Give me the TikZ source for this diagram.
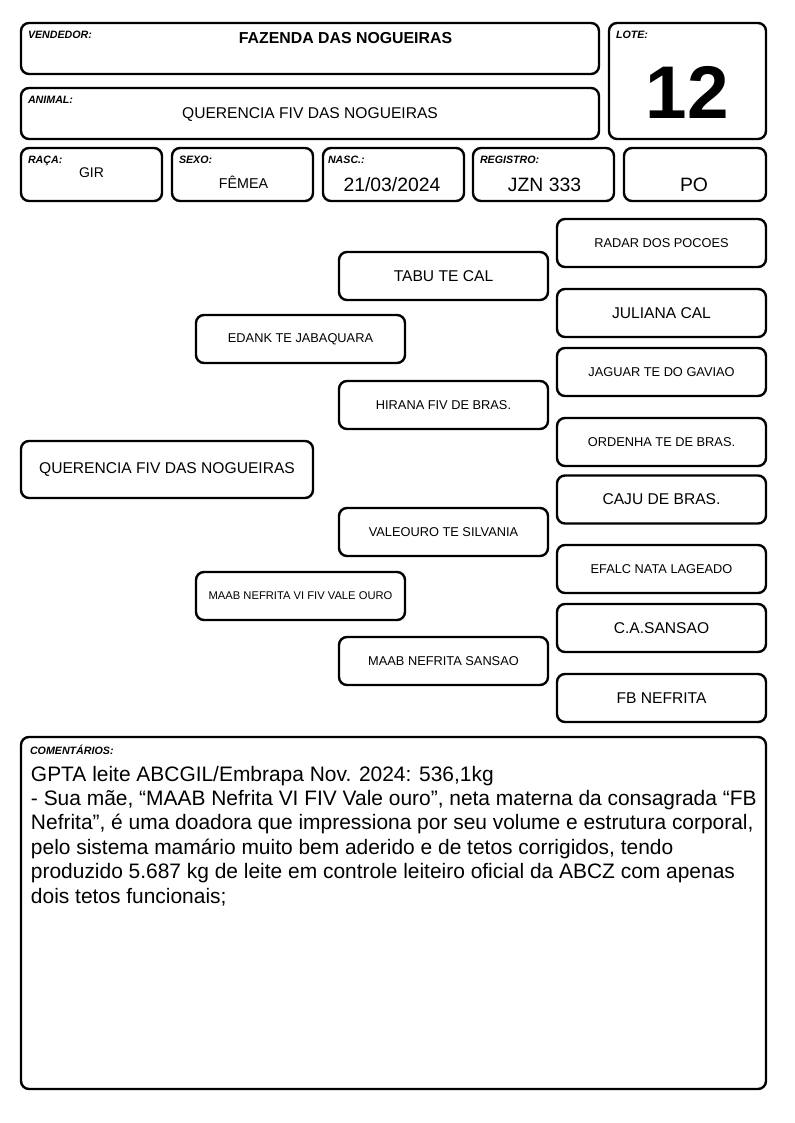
\documentclass[tikz,border=0pt]{standalone}
\usepackage{fontspec}
\setmainfont{Liberation Sans}
\usepackage{tikz}

\begin{document}
\begin{tikzpicture}[x=0.75pt, y={(0pt,-0.75pt)},
        every node/.append style={inner sep=0pt, outer sep=0pt}]
      \tikzstyle{box} = [draw, line width=1.8pt, rounded corners=6pt]
      \tikzstyle{wh} = [minimum width=#1*0.75pt]
      \tikzstyle{ht} = [minimum height=#1*0.75pt]
      \tikzstyle{tag} = [anchor=north west, font=\fontsize{8}{9}\selectfont\bfseries\itshape]
      \tikzstyle{value} = [anchor=base, font=\fontsize{14.5}{17}\selectfont]
      \tikzstyle{large} = [font=\fontsize{11.7}{14}\selectfont]
      \tikzstyle{medium} = [font=\fontsize{9.6}{12}\selectfont]
      \tikzstyle{small} = [font=\fontsize{8.4}{10}\selectfont]
      \tikzstyle{ped} = [box, wh=209, ht=48]
      \useasboundingbox[fill=white] (0,0) rectangle (794,1123);
      % cabecalho
      \node (vendedor) [box, wh=578, ht=51] at (310,48.5) {};
      \node (animal) [box, wh=578, ht=51] at (310,113.5) {};
      \node (lote) [box, wh=157, ht=116] at (687.5,81) {};
      \node (raca) [box, wh=141, ht=53] at (91.5,174.5) {};
      \node (sexo) [box, wh=141, ht=53] at (242.5,174.5) {};
      \node (nasc) [box, wh=141, ht=53] at (393.5,174.5) {};
      \node (registro) [box, wh=141, ht=53] at (543.5,174.5) {};
      \node (po) [box, wh=142, ht=53] at (695,174.5) {};
      \node [tag] at ([shift={(7,8)}]vendedor.north west) {VENDEDOR:};
      \node [tag] at ([shift={(7,8)}]animal.north west) {ANIMAL:};
      \node [tag] at ([shift={(7,8)}]lote.north west) {LOTE:};
      \node [tag] at ([shift={(7,8)}]raca.north west) {RAÇA:};
      \node [tag] at ([shift={(7,8)}]sexo.north west) {SEXO:};
      \node [tag] at ([shift={(5,8)}]nasc.north west) {NASC.:};
      \node [tag] at ([shift={(7,8)}]registro.north west) {REGISTRO:};
      \node (fazenda) [anchor=base, font=\fontsize{11.9}{14}\selectfont\bfseries] at (345.5,44) {FAZENDA DAS NOGUEIRAS};
      \node (nome) [anchor=base, large] at (310,119) {QUERENCIA FIV DAS NOGUEIRAS};
      \node (numero) [anchor=base, font=\fontsize{56}{60}\selectfont\bfseries] at (687.5,119) {12};
      \node [anchor=base, font=\fontsize{10.5}{12}\selectfont] at (91.5,178) {GIR};
      \node [anchor=base, font=\fontsize{10.7}{12}\selectfont] at (243.5,189) {FÊMEA};
      \node [value] at (392,192) {21/03/2024};
      \node [value] at (544.5,192) {JZN 333};
      \node [value] at (694,192) {PO};
      % genealogia
      \node (QUERENCIA) [box, wh=292, ht=57, large] at (167,469.5) {QUERENCIA FIV DAS NOGUEIRAS};
      \node (EDANK) [ped, medium] at (300.5,339) {EDANK TE JABAQUARA};
      \node (MAABVI) [ped, small] at (300.5,596) {MAAB NEFRITA VI FIV VALE OURO};
      \node (TABU) [ped, large] at (443.5,276) {TABU TE CAL};
      \node (HIRANA) [ped, medium] at (443.5,405) {HIRANA FIV DE BRAS.};
      \node (VALEOURO) [ped, medium] at (443.5,532) {VALEOURO TE SILVANIA};
      \node (MAABSANSAO) [ped, medium] at (443.5,661) {MAAB NEFRITA SANSAO};
      \node (RADAR) [ped, medium] at (661.5,243) {RADAR DOS POCOES};
      \node (JULIANA) [ped, large] at (661.5,313) {JULIANA CAL};
      \node (JAGUAR) [ped, medium] at (661.5,372) {JAGUAR TE DO GAVIAO};
      \node (ORDENHA) [ped, medium] at (661.5,442) {ORDENHA TE DE BRAS.};
      \node (CAJU) [ped, large] at (661.5,499.5) {CAJU DE BRAS.};
      \node (EFALC) [ped, medium] at (661.5,569) {EFALC NATA LAGEADO};
      \node (SANSAO) [ped, large] at (661.5,628) {C.A.SANSAO};
      \node (FBNEFRITA) [ped, large] at (661.5,698) {FB NEFRITA};
      % comentarios
      \node (comentarios) [box, wh=745, ht=352] at (393.5,913) {};
      \node [tag] at ([shift={(9,8)}]comentarios.north west) {COMENTÁRIOS:};
      \node (texto) [anchor=north west, align=left, font=\fontsize{15.7}{18.3}\selectfont] at (31,766)
        {GPTA leite ABCGIL/Embrapa Nov. 2024: 536,1kg\\
         - Sua mãe, “MAAB Nefrita VI FIV Vale ouro”, neta materna da consagrada “FB\\
         Nefrita”, é uma doadora que impressiona por seu volume e estrutura corporal,\\
         pelo sistema mamário muito bem aderido e de tetos corrigidos, tendo\\
         produzido 5.687 kg de leite em controle leiteiro oficial da ABCZ com apenas\\
         dois tetos funcionais;};
    \end{tikzpicture}
\end{document}
